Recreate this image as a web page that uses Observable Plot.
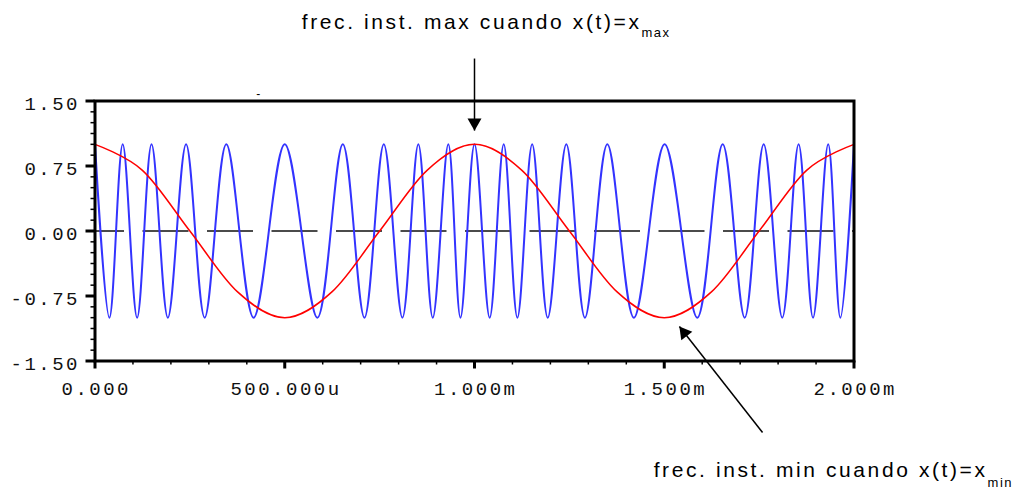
<!DOCTYPE html>
<html><head><meta charset="utf-8">
<script src="https://cdn.jsdelivr.net/npm/d3@7"></script>
<script src="https://cdn.jsdelivr.net/npm/@observablehq/plot@0.6"></script>
<style>html,body{margin:0;padding:0;background:#fff;}</style>
</head><body><div id="chart"></div>
<script>
// FM signal extrema (time in ms)
const bluePeaksMs = [0, 0.073, 0.149, 0.240, 0.346, 0.500, 0.653, 0.761, 0.852, 0.931, 1.000,
  1.077, 1.152, 1.242, 1.350, 1.501, 1.654, 1.762, 1.854, 1.932, 2.000];
const blueTroughsMs = [0.038, 0.111, 0.192, 0.289, 0.418, 0.586, 0.710, 0.810, 0.890, 0.963,
  1.040, 1.113, 1.193, 1.291, 1.420, 1.587, 1.712, 1.811, 1.892, 1.964];
const bluePeakValue = 1.0;
const blueTroughValue = -1.0;

// modulating signal x(t), read at eighth-periods
const redTimesMs = [0, 0.125, 0.25, 0.375, 0.5, 0.625, 0.75, 0.875, 1.0, 1.125, 1.25, 1.375, 1.5, 1.625, 1.75, 1.875, 2.0];
const redValues  = [1, 0.70, 0, -0.70, -1, -0.70, 0, 0.70, 1, 0.70, 0, -0.70, -1, -0.70, 0, 0.70, 1];

// axes
const yTickValues = [1.5, 0.75, 0, -0.75, -1.5];
const yTickLabels = ["1.50", "0.75", "0.00", "-0.75", "-1.50"];
const yMinorTicks = [-1.5,-1.375,-1.25,-1.125,-1,-0.875,-0.75,-0.625,-0.5,-0.375,-0.25,-0.125,0,
  0.125,0.25,0.375,0.5,0.625,0.75,0.875,1,1.125,1.25,1.375,1.5];
const xTickValues = [0, 0.5, 1.0, 1.5, 2.0];
const xTickLabels = ["0.000", "500.000u", "1.000m", "1.500m", "2.000m"];
const xMinorTicks = [0,0.1,0.2,0.3,0.4,0.5,0.6,0.7,0.8,0.9,1.0,1.1,1.2,1.3,1.4,1.5,1.6,1.7,1.8,1.9,2.0];

// annotations
const annotations = [
  {text: "frec. inst. max cuando x(t)=x", sub: "max", t: 1.440, y: 2.333, subY: 2.236},
  {text: "frec. inst. min cuando x(t)=x", sub: "min", t: 2.352, y: -2.841, subY: -2.956}
];
const arrowMax = [{t1: 1.0, y1: 1.99, t2: 1.0, y2: 1.159}];
const arrowMin = [{t1: 1.759, y1: -2.325, t2: 1.540, y2: -1.102}];
const strayMark = [{t: 0.43, y: 1.58, text: "-"}];

const blueRows = bluePeaksMs.map(t => ({t, v: bluePeakValue}))
  .concat(blueTroughsMs.map(t => ({t, v: blueTroughValue})))
  .sort((a, b) => a.t - b.t);
const redRows = redTimesMs.map((t, i) => ({t, v: redValues[i]}));

const mono = "'Liberation Mono', 'DejaVu Sans Mono', monospace";
const sans = "'Liberation Sans', Arial, sans-serif";

const chart = Plot.plot({
  width: 1013,
  height: 497,
  marginLeft: 94.5,
  marginRight: 159.5,
  marginTop: 100.5,
  marginBottom: 136.5,
  x: {domain: [0, 2], label: null},
  y: {domain: [-1.5, 1.5], label: null},
  style: {background: "white", color: "black"},
  marks: [
    Plot.ruleY([0], {stroke: "#111", strokeWidth: 1.5, strokeDasharray: "46,18.5", strokeDashoffset: 16.5}),
    Plot.line(blueRows, {x: "t", y: "v", stroke: "#3333ff", strokeWidth: 2, curve: "cardinal"}),
    Plot.line(redRows, {x: "t", y: "v", stroke: "#ff0000", strokeWidth: 1.5, curve: "cardinal"}),
    Plot.frame({stroke: "black", strokeWidth: 3}),
    Plot.axisY({ticks: yMinorTicks, tickSize: 4, strokeWidth: 1.5, tickFormat: () => "", label: null}),
    Plot.axisY({ticks: yTickValues, tickSize: 9, strokeWidth: 3, tickFormat: () => "", label: null}),
    Plot.axisX({ticks: xMinorTicks, tickSize: 4, strokeWidth: 1.5, tickFormat: () => "", label: null}),
    Plot.axisX({ticks: xTickValues, tickSize: 8, strokeWidth: 3, tickFormat: () => "", label: null}),
    Plot.text(yTickValues, {y: d => d, text: (d, i) => yTickLabels[i], frameAnchor: "left", dx: -15, dy: 3,
      textAnchor: "end", fontSize: 19, fontFamily: mono, fill: "#111"}),
    Plot.text(xTickValues, {x: d => d, text: (d, i) => xTickLabels[i], frameAnchor: "bottom", lineAnchor: "bottom",
      dy: 34, dx: 1.25, textAnchor: "middle", fontSize: 19, fontFamily: mono, fill: "#111"}),
    Plot.text(annotations, {x: "t", y: "y", text: "text", textAnchor: "end", lineAnchor: "bottom",
      fontSize: 21, fontFamily: sans, fill: "black"}),
    Plot.text(annotations, {x: "t", y: "subY", text: "sub", textAnchor: "start", lineAnchor: "bottom",
      fontSize: 13, fontFamily: sans, fill: "black"}),
    Plot.text(strayMark, {x: "t", y: "y", text: "text", fontSize: 12, fontFamily: sans, fill: "black"}),
    Plot.link(arrowMax, {x1: "t1", y1: "y1", x2: "t2", y2: "y2", stroke: "black", strokeWidth: 1.5}),
    Plot.link(arrowMin, {x1: "t1", y1: "y1", x2: "t2", y2: "y2", stroke: "black", strokeWidth: 1.5}),
    Plot.dot(arrowMax, {x: "t2", y: "y2", symbol: "triangle", r: 5.2, fill: "black", stroke: null,
      rotate: 180, dy: -8}),
    Plot.dot(arrowMin, {x: "t2", y: "y2", symbol: "triangle", r: 5.2, fill: "black", stroke: null,
      rotate: -38, dx: 4.9, dy: 6.3})
  ]
});

document.getElementById("chart").appendChild(chart);

// letter spacing of the texts
const labelSet = new Set(yTickLabels.concat(xTickLabels));
const annotSet = new Set(annotations.map(a => a.text));
const subSet = new Set(annotations.map(a => a.sub));
chart.querySelectorAll("text").forEach(el => {
  const s = el.textContent;
  let ls = null;
  if (labelSet.has(s)) ls = "2.5px";
  else if (annotSet.has(s)) ls = "2.6px";
  else if (subSet.has(s)) ls = "1.5px";
  if (ls) { el.setAttribute("letter-spacing", ls); el.style.letterSpacing = ls; }
});
</script>
</body></html>
